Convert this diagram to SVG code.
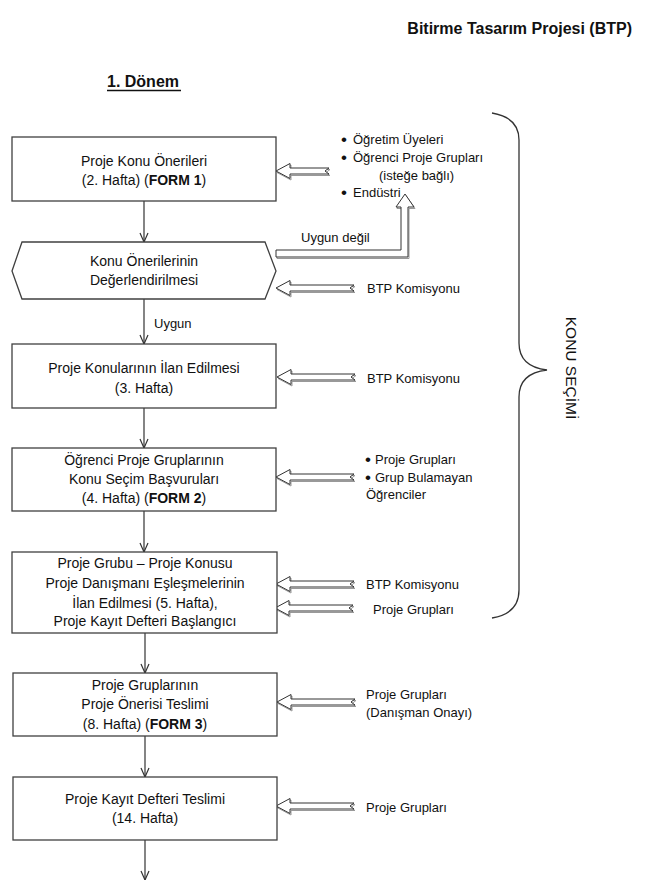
<svg xmlns="http://www.w3.org/2000/svg" xmlns:xlink="http://www.w3.org/1999/xlink" width="652" height="892" viewBox="0 0 652 892">
<style>
.box{fill:#fff;stroke:#404040;stroke-width:1.3}
.t{font-family:"Liberation Sans",Arial,sans-serif;font-size:14px;fill:#111;text-anchor:middle}
.s{font-family:"Liberation Sans",Arial,sans-serif;font-size:13px;fill:#111}
.bu{font-family:"Liberation Sans",Arial,sans-serif;font-size:17px;fill:#111}
.b{font-weight:bold}
.ln{stroke:#333;stroke-width:1.2;fill:none;marker-end:url(#v)}
.blk{fill:#fff;stroke:#333;stroke-width:1}
.sh{fill:none;stroke:#999;stroke-width:1}
</style>
<defs>
<marker id="v" viewBox="0 0 10 10" refX="10" refY="5" markerWidth="10" markerHeight="10" markerUnits="userSpaceOnUse" orient="auto">
<path d="M1,1 L10,5 L1,9" fill="none" stroke="#333" stroke-width="1.2"/>
</marker>
<path id="ba" d="M0,0 L14,-7.5 L14,-3 L78,-3 L74,0 L78,3 L14,3 L14,7.5 Z"/>
<path id="bs" d="M0,0 L14,-7.5 L14,-3 L53,-3 L49,0 L53,3 L14,3 L14,7.5 Z"/>
</defs>
<rect width="652" height="892" fill="#fff"/>

<g id="title">
<text x="632" y="34" class="s b" style="font-size:16px" text-anchor="end">Bitirme Tasarım Projesi (BTP)</text>
</g>
<g id="donem">
<text x="107" y="87" class="s b" style="font-size:16px">1. Dönem</text>
<line x1="107" y1="90.5" x2="181" y2="90.5" stroke="#111" stroke-width="1.3"/>
</g>

<g id="connectors">
<line class="ln" x1="144" y1="201" x2="144" y2="242"/>
<line class="ln" x1="144" y1="299" x2="144" y2="344"/>
<line class="ln" x1="144" y1="408" x2="144" y2="448"/>
<line class="ln" x1="144" y1="511" x2="144" y2="552"/>
<line class="ln" x1="145" y1="633" x2="145" y2="673"/>
<line class="ln" x1="145" y1="736" x2="145" y2="777"/>
<line class="ln" x1="145" y1="840" x2="145" y2="880"/>
<g id="block-arrows">
<use xlink:href="#bs" class="sh" transform="translate(277,172.5)"/>
<use xlink:href="#bs" class="blk" transform="translate(276,171)"/>
<use xlink:href="#ba" class="sh" transform="translate(277,289.5)"/>
<use xlink:href="#ba" class="blk" transform="translate(276,288)"/>
<use xlink:href="#ba" class="sh" transform="translate(278,378.5)"/>
<use xlink:href="#ba" class="blk" transform="translate(277,377)"/>
<use xlink:href="#ba" class="sh" transform="translate(277,478.5)"/>
<use xlink:href="#ba" class="blk" transform="translate(276,477)"/>
<use xlink:href="#ba" class="sh" transform="translate(277,585.5)"/>
<use xlink:href="#ba" class="blk" transform="translate(276,584)"/>
<use xlink:href="#ba" class="sh" transform="translate(276,609.5)"/>
<use xlink:href="#ba" class="blk" transform="translate(275,608)"/>
<use xlink:href="#ba" class="sh" transform="translate(278,703.5)"/>
<use xlink:href="#ba" class="blk" transform="translate(277,702)"/>
<use xlink:href="#ba" class="sh" transform="translate(277,807.5)"/>
<use xlink:href="#ba" class="blk" transform="translate(276,806)"/>
<path class="sh" d="M277,251.5 L402,251.5 L402,208.5 L397,208.5 L406,195.5 L415,208.5 L409,208.5 L409,258.5 L277,258.5 Z"/>
<path class="blk" d="M276,250 L401,250 L401,207 L396,207 L405,194 L414,207 L408,207 L408,257 L276,257 Z"/>
</g>
<text x="301" y="242" class="s">Uygun değil</text>
<text x="154" y="328" class="s">Uygun</text>
</g>

<g id="n1">
<rect class="box" x="12" y="137" width="264" height="64"/>
<text x="144" y="166" class="t">Proje Konu Önerileri</text>
<text x="144" y="185" class="t">(2. Hafta) (<tspan class="b">FORM 1</tspan>)</text>
</g>
<g id="n2">
<polygon class="box" points="12,271 22,242 265,242 276,271 265,299 22,299"/>
<text x="144" y="266" class="t">Konu Önerilerinin</text>
<text x="144" y="285" class="t">Değerlendirilmesi</text>
</g>
<g id="n3">
<rect class="box" x="12" y="344" width="264" height="64"/>
<text x="144" y="373" class="t">Proje Konularının İlan Edilmesi</text>
<text x="144" y="393" class="t">(3. Hafta)</text>
</g>
<g id="n4">
<rect class="box" x="12" y="448" width="264" height="63"/>
<text x="144" y="465" class="t">Öğrenci Proje Gruplarının</text>
<text x="144" y="484" class="t">Konu Seçim Başvuruları</text>
<text x="144" y="503" class="t">(4. Hafta) (<tspan class="b">FORM 2</tspan>)</text>
</g>
<g id="n5">
<rect class="box" x="12" y="552" width="265" height="81"/>
<text x="145" y="568" class="t">Proje Grubu – Proje Konusu</text>
<text x="145" y="588" class="t">Proje Danışmanı Eşleşmelerinin</text>
<text x="145" y="608" class="t">İlan Edilmesi (5. Hafta),</text>
<text x="145" y="626" class="t">Proje Kayıt Defteri Başlangıcı</text>
</g>
<g id="n6">
<rect class="box" x="13" y="673" width="264" height="63"/>
<text x="145" y="690" class="t">Proje Gruplarının</text>
<text x="145" y="709" class="t">Proje Önerisi Teslimi</text>
<text x="145" y="729" class="t">(8. Hafta) (<tspan class="b">FORM 3</tspan>)</text>
</g>
<g id="n7">
<rect class="box" x="13" y="777" width="264" height="63"/>
<text x="145" y="804" class="t">Proje Kayıt Defteri Teslimi</text>
<text x="145" y="823" class="t">(14. Hafta)</text>
</g>

<g id="src1">
<text x="341" y="145" class="bu">•</text><text x="353" y="144" class="s">Öğretim Üyeleri</text>
<text x="341" y="163" class="bu">•</text><text x="353" y="162" class="s">Öğrenci Proje Grupları</text>
<text x="379" y="180" class="s">(isteğe bağlı)</text>
<text x="341" y="198" class="bu">•</text><text x="353" y="197" class="s">Endüstri</text>
</g>
<g id="src2"><text x="367" y="293" class="s">BTP Komisyonu</text></g>
<g id="src3"><text x="367" y="383" class="s">BTP Komisyonu</text></g>
<g id="src4">
<text x="365" y="465" class="bu">•</text><text x="375" y="464" class="s">Proje Grupları</text>
<text x="365" y="483" class="bu">•</text><text x="375" y="482" class="s">Grup Bulamayan</text>
<text x="366" y="499" class="s">Öğrenciler</text>
</g>
<g id="src5">
<text x="366" y="589" class="s">BTP Komisyonu</text>
<text x="373" y="614" class="s">Proje Grupları</text>
</g>
<g id="src6">
<text x="366" y="699" class="s">Proje Grupları</text>
<text x="366" y="717" class="s">(Danışman Onayı)</text>
</g>
<g id="src7"><text x="366" y="812" class="s">Proje Grupları</text></g>

<g id="brace">
<path d="M492,113 C510,116 519,125 519,140 L519,343 C519,360 530,368 547,370 C530,372 519,380 519,397 L519,590 C519,605 510,615 492,618" fill="none" stroke="#333" stroke-width="1.3"/>
<text x="0" y="0" class="s" style="font-size:15.5px" text-anchor="middle" transform="translate(566,368) rotate(90)">KONU SEÇİMİ</text>
</g>
</svg>
